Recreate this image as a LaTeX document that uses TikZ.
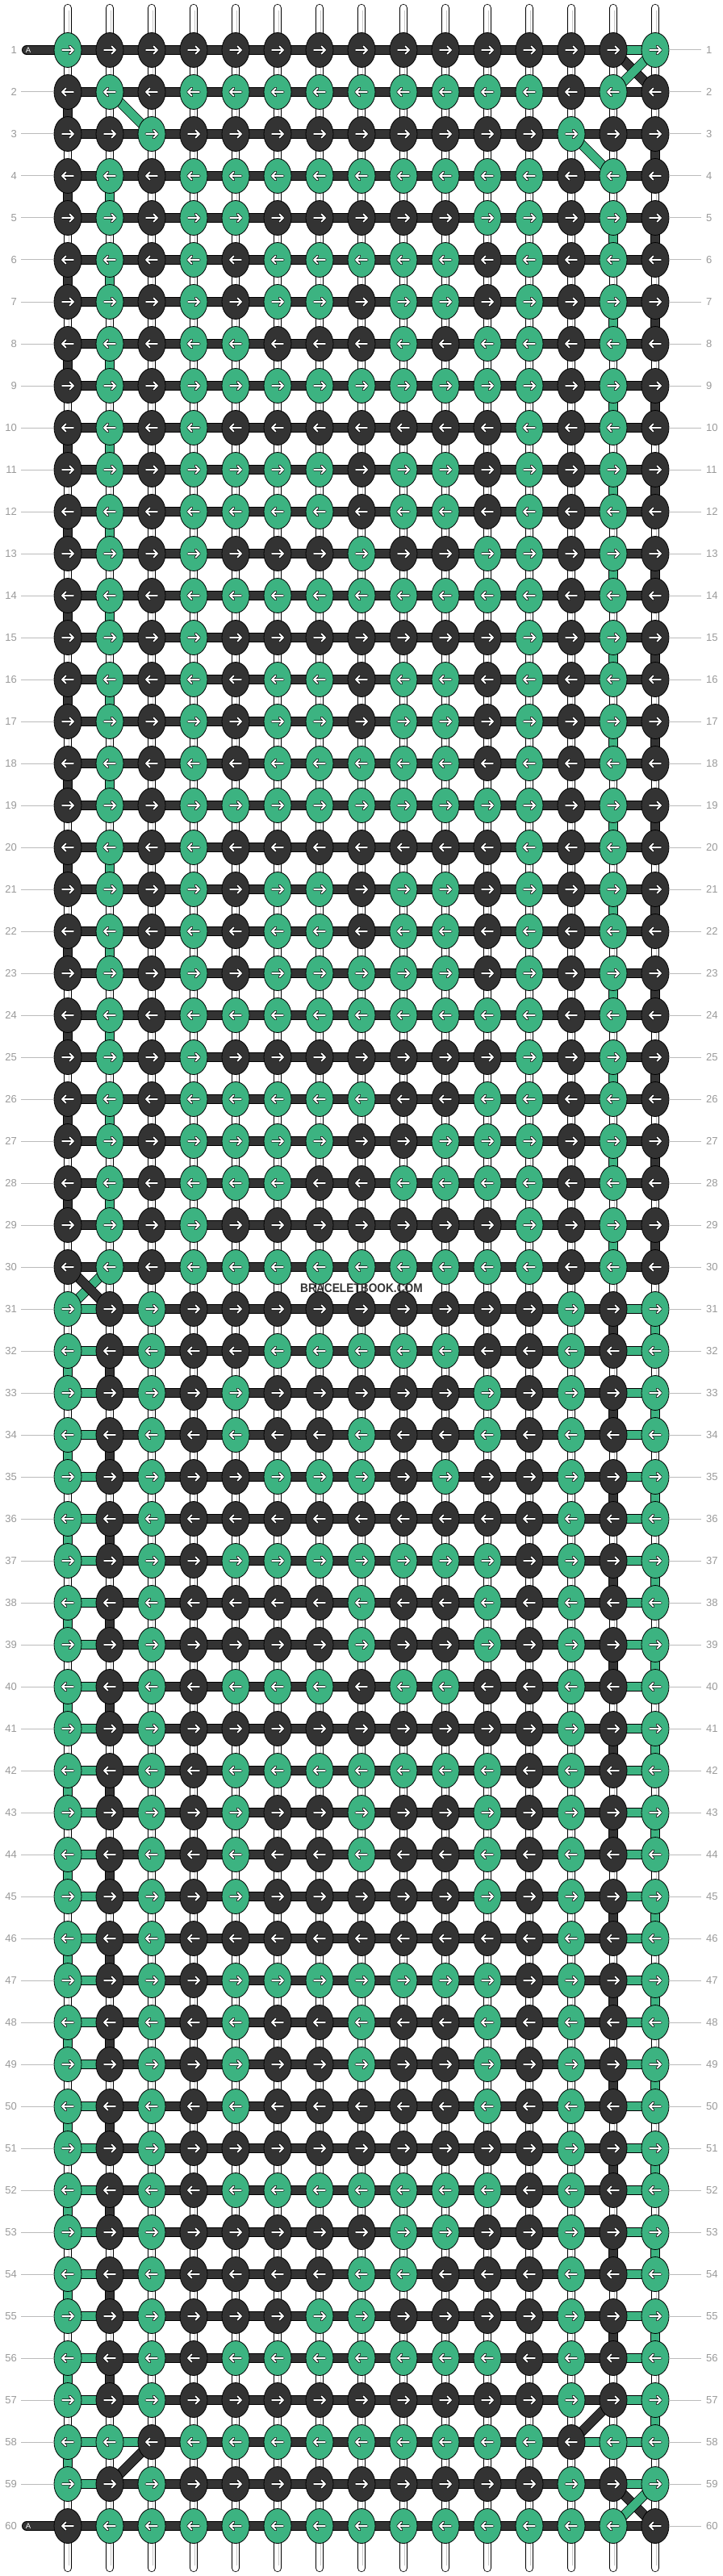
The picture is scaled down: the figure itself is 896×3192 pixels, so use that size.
\documentclass[tikz,border=0pt]{standalone}
\usepackage{fontspec}
\setmainfont{Liberation Sans}
\usetikzlibrary{shapes.geometric}
\definecolor{kg}{HTML}{3CB381}
\definecolor{kd}{HTML}{333333}
\colorlet{kc0}{kd}
\colorlet{kc1}{kg}
\definecolor{lblgray}{HTML}{9A9A9A}
\definecolor{linegray}{HTML}{BBBBBB}
\tikzset{
  knotbase/.style={ellipse, draw=black, line width=0.8pt, minimum width=34pt, minimum height=43pt, inner sep=0pt},
  barD/.style={draw=black, line width=0.8pt, double=kd, double distance=10.4pt},
  barG/.style={draw=black, line width=0.8pt, double=kg, double distance=10.4pt},
  warp/.style={draw=black, line width=0.8pt, double=white, double distance=8.6pt, line cap=round},
  warpmid/.style={draw=black!22, line width=1pt},
  rowline/.style={draw=linegray, line width=1pt},
  lbl/.style={text=lblgray, font=\fontsize{13}{13}\selectfont, inner sep=0pt},
  arrR/.pic={
    \draw[black, line width=3.4pt, line cap=round, line join=round] (-6.8,0) -- (7,0) (2.4,-4.6) -- (7,0) -- (2.4,4.6);
    \draw[white, line width=2pt, line cap=round, line join=round] (-6.8,0) -- (7,0) (2.4,-4.6) -- (7,0) -- (2.4,4.6);
  },
  arrL/.pic={
    \draw[black, line width=3.4pt, line cap=round, line join=round] (6.8,0) -- (-7,0) (-2.4,-4.6) -- (-7,0) -- (-2.4,4.6);
    \draw[white, line width=2pt, line cap=round, line join=round] (6.8,0) -- (-7,0) (-2.4,-4.6) -- (-7,0) -- (-2.4,4.6);
  }
}
\newcommand\krow[2]{%
  \foreach \v [count=\c] in {#2} {%
    \node[knotbase, fill=kc\v] (k-#1-\c) at (p-#1-\c) {};
    \ifodd#1\relax \pic at (p-#1-\c) {arrR};\else \pic at (p-#1-\c) {arrL};\fi
  }%
}
\begin{document}
\begin{tikzpicture}[x=1pt, y=-1pt]
\useasboundingbox (0,0) rectangle (896,3192);
\fill[white] (0,0) rectangle (896,3192);
% grid coordinates
\foreach \r in {1,...,60} {
  \foreach \c in {1,...,15} {
    \coordinate (p-\r-\c) at ({84+52*(\c-1)}, {62+52*(\r-1)});
  }
}
% warp strings
\foreach \c in {1,...,15} {
  \coordinate (wt-\c) at ({84+52*(\c-1)}, 10);
  \coordinate (wb-\c) at ({84+52*(\c-1)}, 3182);
  \coordinate (wmt-\c) at ({85.5+52*(\c-1)}, 13);
  \coordinate (wmb-\c) at ({85.5+52*(\c-1)}, 3179);
  \draw[warp] (wt-\c) -- (wb-\c);
  \draw[warpmid] (wmt-\c) -- (wmb-\c);
}
% edge bars, first half
\foreach \r [evaluate=\r as \rn using int(\r+1)] in {2,4,...,28} \draw[barD] (p-\r-1) -- (p-\rn-1);
\foreach \r [evaluate=\r as \rn using int(\r+1)] in {4,6,...,28} \draw[barG] (p-\r-2) -- (p-\rn-2);
\foreach \r [evaluate=\r as \rn using int(\r+1)] in {3,5,...,29} \draw[barD] (p-\r-15) -- (p-\rn-15);
\foreach \r [evaluate=\r as \rn using int(\r+1)] in {5,7,...,29} \draw[barG] (p-\r-14) -- (p-\rn-14);
% edge bars, second half
\foreach \r [evaluate=\r as \rn using int(\r+1)] in {32,34,...,58} \draw[barG] (p-\r-1) -- (p-\rn-1);
\foreach \r [evaluate=\r as \rn using int(\r+1)] in {32,34,...,56} \draw[barD] (p-\r-2) -- (p-\rn-2);
\foreach \r [evaluate=\r as \rn using int(\r+1)] in {31,33,...,55} \draw[barD] (p-\r-14) -- (p-\rn-14);
\foreach \r [evaluate=\r as \rn using int(\r+1)] in {31,33,...,57} \draw[barG] (p-\r-15) -- (p-\rn-15);
% diagonals
\draw[barG] (p-2-2) -- (p-3-3);
\draw[barG] (p-3-13) -- (p-4-14);
\draw[barD] (p-1-14) -- (p-2-15);
\draw[barG] (p-1-15) -- (p-2-14);
\draw[barG] (p-30-2) -- (p-31-1);
\draw[barD] (p-30-1) -- (p-31-2);
\draw[barD] (p-59-2) -- (p-58-3);
\draw[barD] (p-57-14) -- (p-58-13);
\draw[barD] (p-59-14) -- (p-60-15);
\draw[barG] (p-59-15) -- (p-60-14);
% horizontal bars
\foreach \r in {1,...,60} {
  \foreach \c [evaluate=\c as \cn using int(\c+1)] in {1,...,14} {
    \draw[barD] (p-\r-\c) -- (p-\r-\cn);
  }
}
\draw[barG] (p-1-14) -- (p-1-15);
\foreach \r in {31,...,59} {
  \draw[barG] (p-\r-1) -- (p-\r-2);
  \draw[barG] (p-\r-14) -- (p-\r-15);
}
\draw[barG] (p-58-2) -- (p-58-3);
\draw[barG] (p-58-13) -- (p-58-14);
% tails
\coordinate (tail-1) at (33,62);
\coordinate (tail-60) at (33,3130);
\draw[barD, line cap=round] (tail-1) -- (p-1-1);
\draw[barD, line cap=round] (tail-60) -- (p-60-1);
\node[text=white, font=\fontsize{9.5}{10}\selectfont, inner sep=0pt] (ta-1) at (35,62.5) {A};
\node[text=white, font=\fontsize{9.5}{10}\selectfont, inner sep=0pt] (ta-60) at (35,3130.5) {A};
% knots
\krow{1}{1,0,0,0,0,0,0,0,0,0,0,0,0,0,1}
\krow{2}{0,1,0,1,1,1,1,1,1,1,1,1,0,1,0}
\krow{3}{0,0,1,0,0,0,0,0,0,0,0,0,1,0,0}
\krow{4}{0,1,0,1,1,1,1,1,1,1,1,1,0,1,0}
\krow{5}{0,1,0,1,1,0,0,0,0,0,1,1,0,1,0}
\krow{6}{0,1,0,1,0,1,1,1,1,1,0,1,0,1,0}
\krow{7}{0,1,0,1,0,1,1,0,1,1,0,1,0,1,0}
\krow{8}{0,1,0,1,1,0,0,0,1,0,1,1,0,1,0}
\krow{9}{0,1,0,1,1,1,1,1,1,1,1,1,0,1,0}
\krow{10}{0,1,0,1,0,0,0,0,0,0,0,1,0,1,0}
\krow{11}{0,1,0,1,1,1,1,0,1,1,0,1,0,1,0}
\krow{12}{0,1,0,1,1,1,1,0,1,1,0,1,0,1,0}
\krow{13}{0,1,0,1,0,0,0,1,0,0,1,1,0,1,0}
\krow{14}{0,1,0,1,1,1,1,1,1,1,1,1,0,1,0}
\krow{15}{0,1,0,1,0,0,0,0,0,0,0,1,0,1,0}
\krow{16}{0,1,0,1,0,1,1,0,1,1,0,1,0,1,0}
\krow{17}{0,1,0,1,0,1,1,0,1,1,0,1,0,1,0}
\krow{18}{0,1,0,1,0,1,1,1,1,1,0,1,0,1,0}
\krow{19}{0,1,0,1,1,1,1,1,1,1,1,1,0,1,0}
\krow{20}{0,1,0,1,0,0,0,0,0,0,0,1,0,1,0}
\krow{21}{0,1,0,1,0,1,1,0,1,1,0,1,0,1,0}
\krow{22}{0,1,0,1,0,1,1,0,1,1,0,1,0,1,0}
\krow{23}{0,1,0,1,0,1,1,1,1,1,0,1,0,1,0}
\krow{24}{0,1,0,1,1,1,1,1,1,1,1,1,0,1,0}
\krow{25}{0,1,0,1,0,0,0,0,0,0,0,1,0,1,0}
\krow{26}{0,1,0,1,1,1,1,1,0,0,1,1,0,1,0}
\krow{27}{0,1,0,1,1,1,1,0,0,1,1,1,0,1,0}
\krow{28}{0,1,0,1,1,1,0,0,1,1,1,1,0,1,0}
\krow{29}{0,1,0,1,0,0,0,0,0,0,0,1,0,1,0}
\krow{30}{0,1,0,1,1,1,1,1,1,1,1,1,0,1,0}
\krow{31}{1,0,1,0,0,0,0,0,0,0,0,0,1,0,1}
\krow{32}{1,0,1,0,0,1,1,1,1,1,0,0,1,0,1}
\krow{33}{1,0,1,0,1,0,0,0,0,0,1,0,1,0,1}
\krow{34}{1,0,1,0,1,0,0,1,0,0,1,0,1,0,1}
\krow{35}{1,0,1,0,0,1,1,1,0,1,0,0,1,0,1}
\krow{36}{1,0,1,0,0,0,0,0,0,0,0,0,1,0,1}
\krow{37}{1,0,1,0,1,1,1,1,1,1,1,0,1,0,1}
\krow{38}{1,0,1,0,0,0,0,1,0,0,1,0,1,0,1}
\krow{39}{1,0,1,0,0,0,0,1,0,0,1,0,1,0,1}
\krow{40}{1,0,1,0,1,1,1,0,1,1,0,0,1,0,1}
\krow{41}{1,0,1,0,0,0,0,0,0,0,0,0,1,0,1}
\krow{42}{1,0,1,0,1,1,1,1,1,1,1,0,1,0,1}
\krow{43}{1,0,1,0,1,0,0,1,0,0,1,0,1,0,1}
\krow{44}{1,0,1,0,1,0,0,1,0,0,1,0,1,0,1}
\krow{45}{1,0,1,0,1,0,0,0,0,0,1,0,1,0,1}
\krow{46}{1,0,1,0,0,0,0,0,0,0,0,0,1,0,1}
\krow{47}{1,0,1,0,1,1,1,1,1,1,1,0,1,0,1}
\krow{48}{1,0,1,0,1,0,0,1,0,0,1,0,1,0,1}
\krow{49}{1,0,1,0,1,0,0,1,0,0,1,0,1,0,1}
\krow{50}{1,0,1,0,1,0,0,0,0,0,1,0,1,0,1}
\krow{51}{1,0,1,0,0,0,0,0,0,0,0,0,1,0,1}
\krow{52}{1,0,1,0,1,1,1,1,1,1,1,0,1,0,1}
\krow{53}{1,0,1,0,0,0,0,0,1,1,0,0,1,0,1}
\krow{54}{1,0,1,0,0,0,0,1,1,0,0,0,1,0,1}
\krow{55}{1,0,1,0,0,0,1,1,0,0,0,0,1,0,1}
\krow{56}{1,0,1,0,1,1,1,1,1,1,1,0,1,0,1}
\krow{57}{1,0,1,0,0,0,0,0,0,0,0,0,1,0,1}
\krow{58}{1,1,0,1,1,1,1,1,1,1,1,1,0,1,1}
\krow{59}{1,0,1,0,0,0,0,0,0,0,0,0,1,0,1}
\krow{60}{0,1,1,1,1,1,1,1,1,1,1,1,1,1,0}
% row labels
\foreach \r in {1,...,60} {
  \node[lbl, anchor=east] (ll-\r) at (21, {62+52*(\r-1)}) {\r};
  \node[lbl, anchor=west] (rl-\r) at (875, {62+52*(\r-1)}) {\r};
  \draw[rowline] (k-\r-15.east) -- ([xshift=-6pt]rl-\r.west);
}
\foreach \r in {2,...,59} {
  \draw[rowline] ([xshift=5pt]ll-\r.east) -- (k-\r-1.west);
}
% watermark
\node[text=kd, font=\bfseries\fontsize{15.4}{16}\selectfont, inner sep=0pt] (wm) at (448,1596) {\scalebox{0.89}[1]{BRACELETBOOK.COM}};
\end{tikzpicture}
\end{document}
